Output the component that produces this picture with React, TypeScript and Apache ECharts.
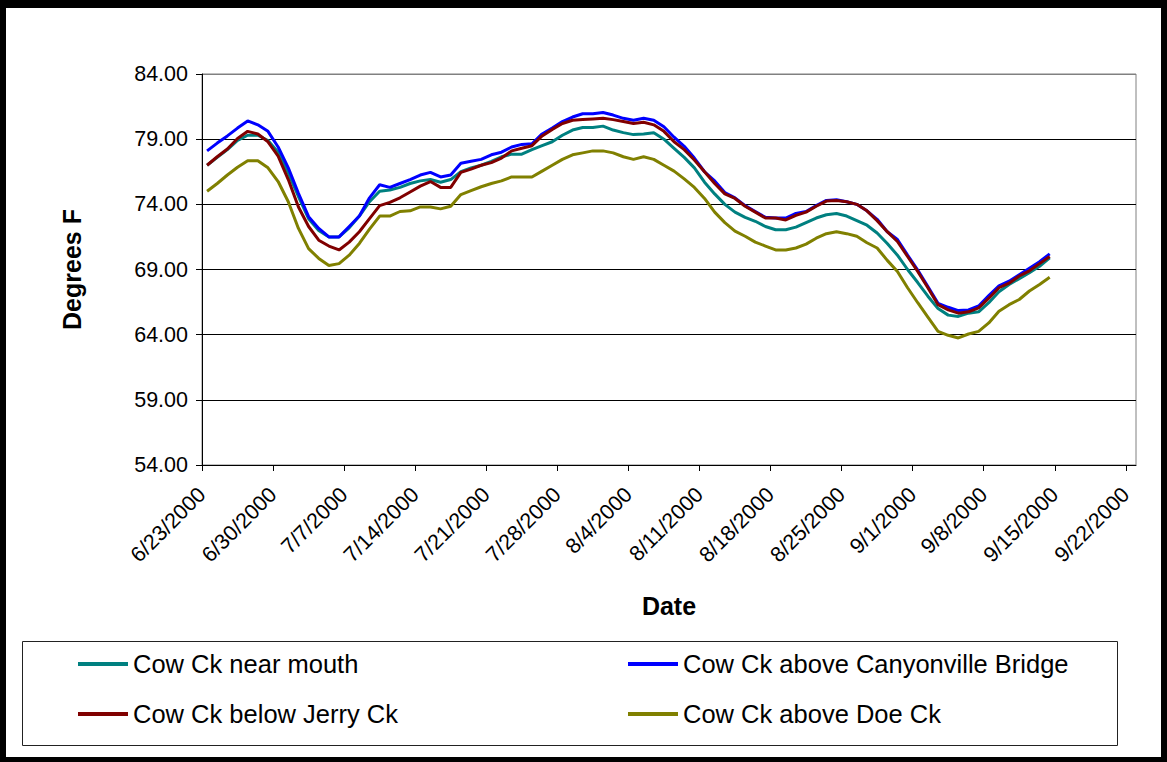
import React, { useEffect, useRef } from "react";
import * as echarts from "echarts";

// Day 0 = 6/23/2000; one value per day (6/23 .. 9/14)
const tickLabels = [
  "6/23/2000", "6/30/2000", "7/7/2000", "7/14/2000", "7/21/2000", "7/28/2000", "8/4/2000",
  "8/11/2000", "8/18/2000", "8/25/2000", "9/1/2000", "9/8/2000", "9/15/2000", "9/22/2000",
];

const seriesNames = [
  "Cow Ck near mouth",
  "Cow Ck above Canyonville Bridge",
  "Cow Ck below Jerry Ck",
  "Cow Ck above Doe Ck",
];

const nearMouth = [
  77.0, 77.6, 78.2, 78.9, 79.3, 79.3, 78.9, 78.0, 76.4, 74.6, 72.9, 72.0, 71.5, 71.5, 72.2, 73.1, 74.2, 75.0,
  75.1, 75.3, 75.6, 75.8, 75.9, 75.7, 75.9, 76.5, 76.8, 77.0, 77.3, 77.65, 77.85, 77.85, 78.2, 78.5,
  78.8, 79.3, 79.7, 79.9, 79.9, 80.0, 79.7, 79.5, 79.35, 79.4, 79.5, 79.0, 78.3, 77.6, 76.8, 75.7, 74.8,
  74.0, 73.4, 73.0, 72.7, 72.3, 72.05, 72.05, 72.25, 72.6, 72.95, 73.2, 73.3, 73.1, 72.75, 72.4, 71.8, 71.0,
  70.1, 69.0, 68.0, 66.95, 66.0, 65.5, 65.4, 65.65, 65.75, 66.45, 67.3, 67.85, 68.3, 68.75, 69.25, 69.9,
];

const aboveCanyonville = [
  78.1, 78.7, 79.25, 79.85, 80.4, 80.1, 79.6, 78.4, 76.8, 74.85, 73.05, 72.15, 71.5, 71.5, 72.3, 73.1, 74.5, 75.5,
  75.3, 75.6, 75.9, 76.25, 76.45, 76.1, 76.25, 77.15, 77.3, 77.45, 77.8, 78.0, 78.4, 78.6, 78.65, 79.4,
  79.85, 80.35, 80.7, 80.95, 80.95, 81.05, 80.85, 80.6, 80.45, 80.6, 80.45, 79.95, 79.15, 78.45, 77.55, 76.5, 75.8,
  74.9, 74.5, 73.9, 73.45, 73.0, 72.95, 72.95, 73.3, 73.45, 73.9, 74.3, 74.35, 74.2, 74.0, 73.5, 72.85, 71.9,
  71.3, 70.1, 68.95, 67.7, 66.4, 66.1, 65.85, 65.9, 66.2, 67.0, 67.75, 68.1, 68.6, 69.1, 69.6, 70.2,
];

const belowJerry = [
  77.0, 77.65, 78.25, 79.05, 79.6, 79.4, 78.8, 77.7, 75.9, 73.8, 72.3, 71.25, 70.8, 70.5, 71.1, 71.9, 72.9, 73.9,
  74.15, 74.5, 74.95, 75.4, 75.75, 75.3, 75.3, 76.45, 76.7, 77.0, 77.2, 77.55, 78.1, 78.3, 78.5, 79.25,
  79.75, 80.2, 80.45, 80.5, 80.55, 80.6, 80.5, 80.35, 80.2, 80.3, 80.1, 79.6, 78.8, 78.2, 77.4, 76.5, 75.6,
  74.8, 74.45, 73.85, 73.4, 72.95, 72.95, 72.8, 73.15, 73.4, 73.85, 74.25, 74.3, 74.2, 74.0, 73.5, 72.75, 71.9,
  71.15, 70.0, 68.85, 67.6, 66.3, 65.9, 65.65, 65.75, 66.05, 66.8, 67.6, 67.95, 68.5, 68.9, 69.45, 70.0,
];

const aboveDoe = [
  75.0, 75.6, 76.25, 76.85, 77.35, 77.35, 76.8, 75.75, 74.2, 72.15, 70.6, 69.85, 69.3, 69.45, 70.1, 71.0, 72.1, 73.1,
  73.1, 73.45, 73.5, 73.8, 73.8, 73.65, 73.85, 74.75, 75.05, 75.35, 75.6, 75.8, 76.1, 76.1, 76.1, 76.55,
  77.0, 77.45, 77.8, 77.95, 78.1, 78.1, 77.95, 77.65, 77.45, 77.65, 77.45, 77.0, 76.55, 75.95, 75.3, 74.45, 73.4,
  72.6, 71.95, 71.55, 71.1, 70.8, 70.5, 70.5, 70.65, 70.95, 71.4, 71.75, 71.9, 71.75, 71.55, 71.05, 70.65, 69.7,
  68.85, 67.6, 66.45, 65.35, 64.25, 63.95, 63.75, 64.05, 64.25, 64.9, 65.8, 66.3, 66.7, 67.35, 67.85, 68.4,
];

const seriesValues = [nearMouth, aboveCanyonville, belowJerry, aboveDoe];
const seriesColors = ["#008080", "#0000FF", "#800000", "#808000"];

const FONT = "'Liberation Sans', Arial, sans-serif";

export default function App() {
  const ref = useRef<HTMLDivElement>(null);

  useEffect(() => {
    if (!ref.current) return;
    const chart = echarts.init(ref.current, undefined, { renderer: "svg" });
    const tickVals = tickLabels.map((_, i) => i * 7);

    const legendPos = [
      { left: 78, top: 651 },
      { left: 628, top: 651 },
      { left: 78, top: 701 },
      { left: 628, top: 701 },
    ];

    chart.setOption({
      animation: false,
      backgroundColor: "#ffffff",
      textStyle: { fontFamily: FONT },
      grid: { left: 202, top: 74, right: 31, bottom: 297, show: true, borderColor: "#808080", borderWidth: 1 },
      xAxis: {
        type: "value",
        min: 0,
        max: 92,
        interval: 7,
        name: "Date",
        nameLocation: "middle",
        nameGap: 128,
        nameTextStyle: { fontSize: 25, fontWeight: "bold", color: "#000", fontFamily: FONT },
        axisLine: { show: true, lineStyle: { color: "#000", width: 1 } },
        axisTick: { show: true, length: 6, customValues: tickVals, lineStyle: { color: "#000" } },
        axisLabel: {
          customValues: tickVals,
          rotate: 45,
          margin: 26,
          fontSize: 21.5,
          color: "#000",
          fontFamily: FONT,
          formatter: (v: number) => tickLabels[Math.round(v / 7)] ?? "",
        },
        splitLine: { show: false },
      },
      yAxis: {
        type: "value",
        min: 54,
        max: 84,
        interval: 5,
        name: "Degrees F",
        nameLocation: "middle",
        nameRotate: 90,
        nameGap: 118,
        nameTextStyle: { fontSize: 25, fontWeight: "bold", color: "#000", fontFamily: FONT },
        axisLine: { show: true, lineStyle: { color: "#000", width: 1 } },
        axisTick: { show: true, length: 6, lineStyle: { color: "#000" } },
        axisLabel: {
          fontSize: 21.5,
          margin: 14,
          color: "#000",
          fontFamily: FONT,
          formatter: (v: number) => v.toFixed(2),
        },
        splitLine: {
          show: true,
          lineStyle: { color: ["#000", "#000", "#000", "#000", "#000", "#000", "#808080"], width: 1 },
        },
      },
      legend: seriesNames.map((name, i) => ({
        data: [name],
        left: legendPos[i].left,
        top: legendPos[i].top,
        padding: 0,
        icon: "rect",
        itemWidth: 50,
        itemHeight: 4,
        selectedMode: false,
        textStyle: { fontSize: 25.5, color: "#000", fontFamily: FONT },
      })),
      series: seriesNames.map((name, i) => ({
        name,
        type: "line",
        showSymbol: false,
        symbol: "none",
        color: seriesColors[i],
        lineStyle: { color: seriesColors[i], width: 3 },
        data: seriesValues[i].map((v, d) => [d + 0.5, v]),
      })),
      graphic: [
        { type: "rect", shape: { x: 22.5, y: 641.5, width: 1095, height: 104 }, style: { fill: "none", stroke: "#222", lineWidth: 1 } },
        { type: "rect", shape: { x: 0, y: 0, width: 1167, height: 8 }, style: { fill: "#000" } },
        { type: "rect", shape: { x: 0, y: 0, width: 6, height: 762 }, style: { fill: "#000" } },
        { type: "rect", shape: { x: 1161, y: 0, width: 6, height: 762 }, style: { fill: "#000" } },
        { type: "rect", shape: { x: 0, y: 757, width: 1167, height: 5 }, style: { fill: "#000" } },
      ],
    });

    return () => chart.dispose();
  }, []);

  return (
    <div
      ref={ref}
      style={{ position: "fixed", left: 0, top: 0, width: 1167, height: 762, background: "#fff" }}
    />
  );
}
